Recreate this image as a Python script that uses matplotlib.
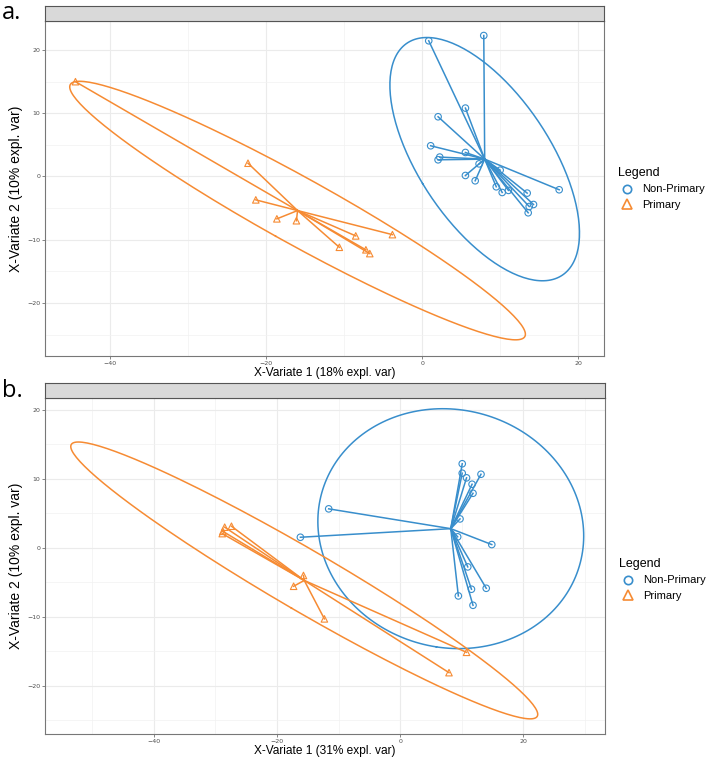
import numpy as np
import matplotlib.pyplot as plt
from matplotlib.lines import Line2D

BLUE = '#388ECC'
ORANGE = '#F68B33'

# panel a
a_np_x = [0.85, 7.9, 5.55, 2.05, 1.1, 5.55, 2.26, 2.05, 7.3, 10.0, 5.55, 6.8, 9.5, 10.26, 11.06, 13.46, 17.56, 13.72, 14.27, 13.59]
a_np_y = [21.47, 22.3, 10.82, 9.45, 4.86, 3.8, 3.07, 2.64, 2.0, 1.0, 0.16, -0.68, -1.63, -2.53, -2.2, -2.63, -2.1, -4.75, -4.43, -5.74]
a_p_x = [-44.4, -22.3, -21.3, -18.6, -16.1, -10.6, -8.5, -3.8, -7.2, -6.7]
a_p_y = [15.0, 2.1, -3.7, -6.7, -7.0, -11.2, -9.4, -9.2, -11.6, -12.2]

# panel b
b_np_x = [-11.6, -16.2, 10.1, 10.1, 10.8, 13.15, 11.7, 11.85, 9.74, 9.36, 14.9, 11.0, 11.6, 14.0, 9.47, 11.85]
b_np_y = [5.66, 1.54, 12.2, 10.83, 10.16, 10.68, 9.23, 7.92, 4.2, 1.6, 0.48, -2.76, -6.0, -5.86, -6.97, -8.33]
b_p_x = [-28.5, -27.4, -28.8, -28.9, -15.7, -17.3, -12.3, 10.8, 7.95]
b_p_y = [3.0, 3.14, 2.4, 2.07, -4.0, -5.57, -10.3, -15.15, -18.1]

xlabels = ['X-Variate 1 (18% expl. var)', 'X-Variate 1 (31% expl. var)']
ylabel = 'X-Variate 2 (10% expl. var)'
groups = ['Non-Primary', 'Primary']


def ellipse(x, y, level=0.95, n=200):
    pts = np.column_stack([x, y])
    mu = pts.mean(axis=0)
    cov = np.cov(pts.T)
    t = np.sqrt(-2 * np.log(1 - level))
    vals, vecs = np.linalg.eigh(cov)
    th = np.linspace(0, 2 * np.pi, n)
    circ = np.vstack([np.cos(th), np.sin(th)])
    e = vecs @ (np.sqrt(vals)[:, None] * circ) * t
    return mu[0] + e[0], mu[1] + e[1]


def star(ax, x, y, color, marker):
    cx, cy = np.mean(x), np.mean(y)
    for xi, yi in zip(x, y):
        ax.plot([cx, xi], [cy, yi], color=color, lw=1.1, zorder=3)
    ax.scatter(x, y, s=22, marker=marker, facecolors='none', edgecolors=color, linewidths=0.8, zorder=4)
    ex, ey = ellipse(x, y)
    ax.plot(ex, ey, color=color, lw=1.1, zorder=3)


def panel(rect, strip_rect, xlim, ylim, xlab, data, leg_y):
    ax = fig.add_axes(rect)
    st = fig.add_axes(strip_rect)
    st.set_facecolor('#D9D9D9')
    st.set_xticks([])
    st.set_yticks([])
    for s in st.spines.values():
        s.set_color('#555555')
        s.set_linewidth(0.8)
    ax.set_xticks([-40, -20, 0, 20])
    ax.set_xticks([-50, -30, -10, 10, 30], minor=True)
    ax.set_yticks([-20, -10, 0, 10, 20])
    ax.set_yticks([-25, -15, -5, 5, 15], minor=True)
    ax.grid(True, which='major', color='#EBEBEB', lw=0.8, zorder=0)
    ax.grid(True, which='minor', color='#F2F2F2', lw=0.5, zorder=0)
    ax.tick_params(which='major', labelsize=4.5, labelcolor='#4D4D4D', color='#555555', length=2, width=0.5, pad=1.5)
    ax.tick_params(which='minor', length=0)
    for s in ax.spines.values():
        s.set_color('#777777')
        s.set_linewidth(0.8)
    ax.set_xlabel(xlab, fontsize=8.6, family='Liberation Sans', labelpad=1)
    ax.set_ylabel(ylabel, fontsize=10, family='Liberation Sans', labelpad=3)
    (nx, ny), (px, py) = data
    star(ax, nx, ny, BLUE, 'o')
    star(ax, px, py, ORANGE, '^')
    ax.set_xlim(xlim)
    ax.set_ylim(ylim)
    handles = [Line2D([], [], ls='none', marker='o', mfc='none', mec=BLUE, mew=1.2, ms=6),
               Line2D([], [], ls='none', marker='^', mfc='none', mec=ORANGE, mew=1.2, ms=7)]
    leg = ax.legend(handles, groups, title='Legend', loc='center left', bbox_to_anchor=(1.012, leg_y),
                    frameon=False, prop={'family': 'Liberation Sans', 'size': 8}, handletextpad=0.6,
                    labelspacing=0.5, borderpad=0.2, handlelength=1.5)
    leg.get_title().set_fontsize(9)
    leg.get_title().set_family('Liberation Sans')
    leg._legend_box.align = 'left'
    return ax


fig = plt.figure(figsize=(7.09, 7.59), dpi=100)
W, H = 709, 759


def r(l, t, rgt, b):
    return [l / W, 1 - b / H, (rgt - l) / W, (b - t) / H]


panel(r(45, 21, 604, 356), r(45, 6, 604, 21), (-48.3, 23.3), (-28.4, 24.6), xlabels[0],
      [(a_np_x, a_np_y), (a_p_x, a_p_y)], 0.5)
panel(r(45, 398, 605, 734), r(45, 383, 605, 398), (-57.7, 33.3), (-27.0, 21.74), xlabels[1],
      [(b_np_x, b_np_y), (b_p_x, b_p_y)], 0.46)

fig.text(2 / W, 1 - 19 / H, 'a.', fontsize=17, family='Open Sans')
fig.text(2 / W, 1 - 397 / H, 'b.', fontsize=17, family='Open Sans')

fig.savefig('out.png', dpi=100)
